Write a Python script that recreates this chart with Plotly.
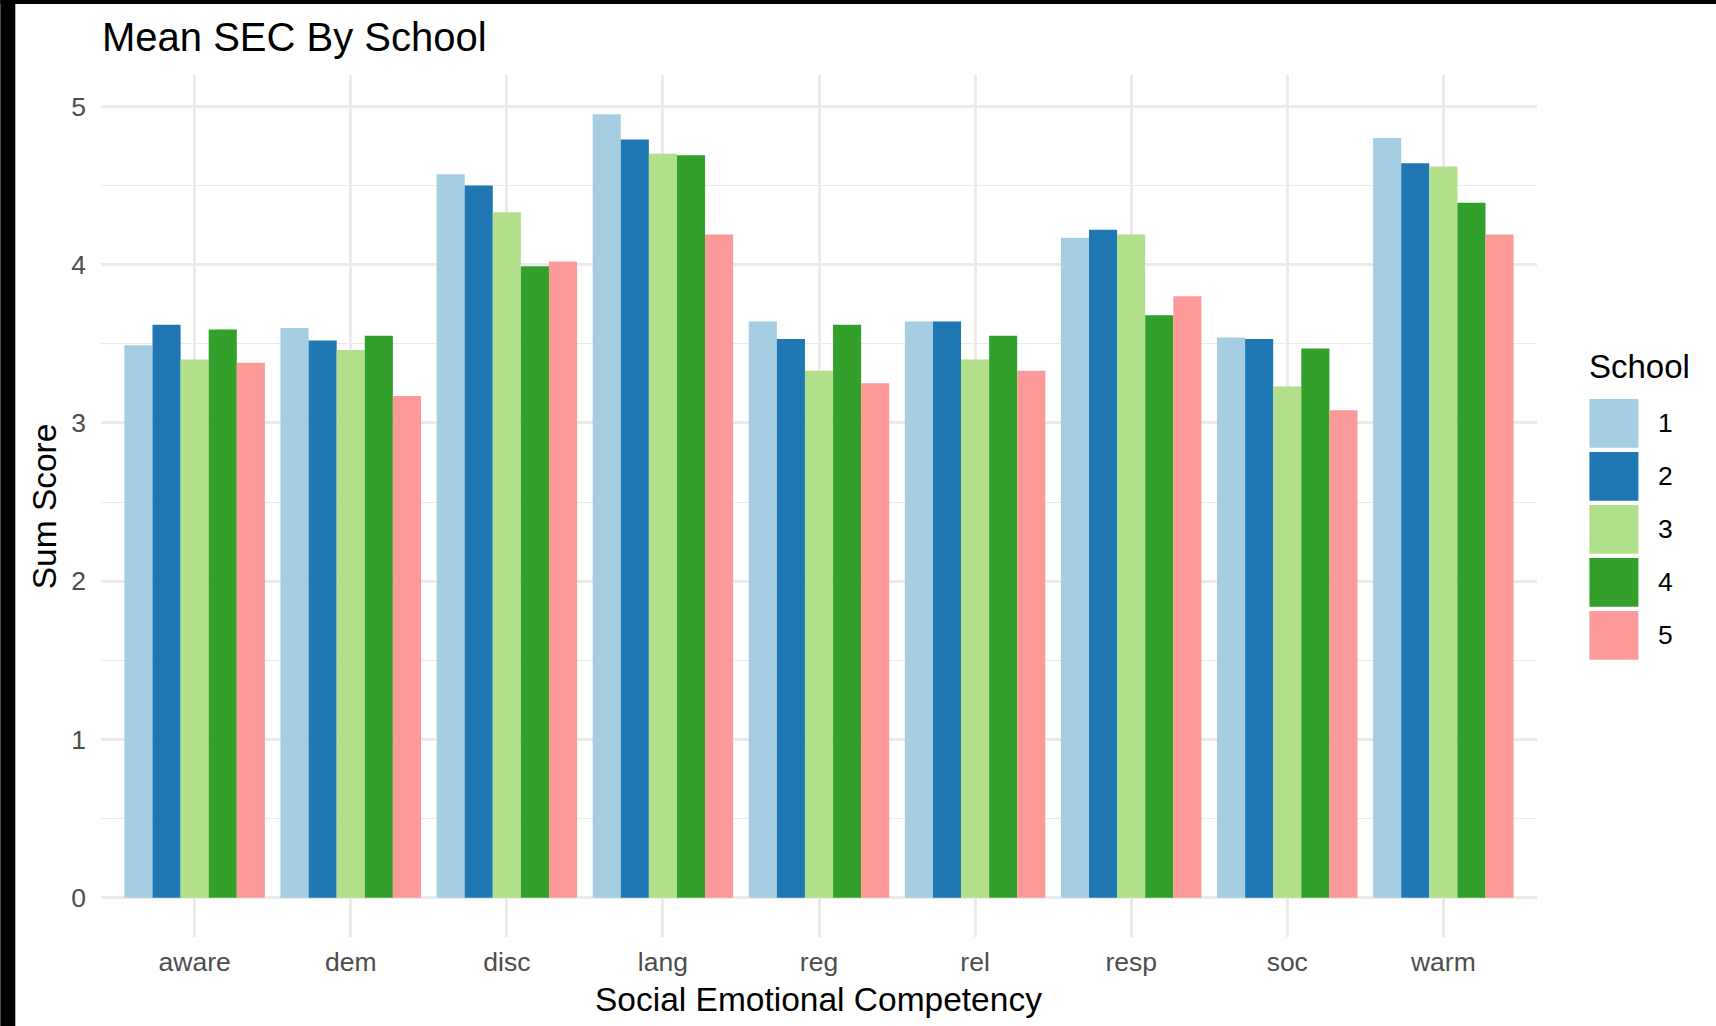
import plotly.graph_objects as go

categories = ["aware", "dem", "disc", "lang", "reg", "rel", "resp", "soc", "warm"]
schools = ["1", "2", "3", "4", "5"]
school1 = [3.49, 3.60, 4.57, 4.95, 3.64, 3.64, 4.17, 3.54, 4.80]
school2 = [3.62, 3.52, 4.50, 4.79, 3.53, 3.64, 4.22, 3.53, 4.64]
school3 = [3.40, 3.46, 4.33, 4.70, 3.33, 3.40, 4.19, 3.23, 4.62]
school4 = [3.59, 3.55, 3.99, 4.69, 3.62, 3.55, 3.68, 3.47, 4.39]
school5 = [3.38, 3.17, 4.02, 4.19, 3.25, 3.33, 3.80, 3.08, 4.19]
series = [school1, school2, school3, school4, school5]
colors = ["#A6CEE3", "#1F78B4", "#B2DF8A", "#33A02C", "#FB9A99"]

W_FIG, H_FIG = 1716, 1026
L, R, T, B = 100.7, 1536.6, 75.0, 937.0
PW, PH = R - L, B - T

def px(x):
    return (x - L) / PW

def py(y):
    return (B - y) / PH

fig = go.Figure()
for name, vals, col in zip(schools, series, colors):
    fig.add_trace(go.Bar(x=categories, y=vals, name=name, marker=dict(color=col, line=dict(width=0)),
                         showlegend=False))

font_fam = "Liberation Sans, Arial, sans-serif"
ymax = max(max(s) for s in series)
pad = 0.05 * ymax

fig.update_layout(
    width=W_FIG, height=H_FIG,
    margin=dict(l=L, r=W_FIG - R, t=T, b=H_FIG - B, pad=0, autoexpand=False),
    paper_bgcolor="white", plot_bgcolor="white",
    barmode="group", bargap=0.1, bargroupgap=0,
    font=dict(family=font_fam, color="#000000"),
    xaxis=dict(type="category", range=[-0.6, len(categories) - 0.4], showgrid=True,
               gridcolor="#EBEBEB", gridwidth=2.5, zeroline=False, showline=False, ticks="",
               tickfont=dict(size=26.5, color="#4D4D4D", family=font_fam), automargin=False,
               ticklabelstandoff=6),
    yaxis=dict(range=[-pad, ymax + pad], tickvals=[0, 1, 2, 3, 4, 5], showgrid=True,
               gridcolor="#EBEBEB", gridwidth=2.5, zeroline=False, showline=False, ticks="",
               tickfont=dict(size=26.5, color="#4D4D4D", family=font_fam), automargin=False,
               ticklabelstandoff=14,
               minor=dict(tickvals=[0.5, 1.5, 2.5, 3.5, 4.5], showgrid=True, gridcolor="#EBEBEB",
                          gridwidth=1.3)),
)

shapes = []
# black border bands
shapes.append(dict(type="rect", xref="paper", yref="paper", x0=px(0), x1=px(15), y0=py(H_FIG), y1=py(0),
                   fillcolor="black", line=dict(width=0), layer="above"))
shapes.append(dict(type="rect", xref="paper", yref="paper", x0=px(0), x1=px(W_FIG), y0=py(4), y1=py(0),
                   fillcolor="black", line=dict(width=0), layer="above"))

annotations = []
annotations.append(dict(text="Mean SEC By School", xref="paper", yref="paper", x=px(100), y=py(37),
                        xanchor="left", yanchor="middle", showarrow=False,
                        font=dict(size=40, color="black", family=font_fam)))
annotations.append(dict(text="Social Emotional Competency", xref="paper", yref="paper", x=px(818),
                        y=py(1000), xanchor="center", yanchor="middle", showarrow=False,
                        font=dict(size=33.5, color="black", family=font_fam)))
annotations.append(dict(text="Sum Score", xref="paper", yref="paper", x=px(44), y=py(506),
                        xanchor="center", yanchor="middle", showarrow=False, textangle=-90,
                        font=dict(size=33.5, color="black", family=font_fam)))

# legend
annotations.append(dict(text="School", xref="paper", yref="paper", x=px(1587), y=py(366),
                        xanchor="left", yanchor="middle", showarrow=False,
                        font=dict(size=33, color="black", family=font_fam)))
key_top0, key_step, key_h = 399.0, 53.0, 48.7
for i, (name, col) in enumerate(zip(schools, colors)):
    top = key_top0 + i * key_step
    shapes.append(dict(type="rect", xref="paper", yref="paper", x0=px(1589), x1=px(1638),
                       y0=py(top + key_h), y1=py(top), fillcolor=col, line=dict(width=0)))
    annotations.append(dict(text=name, xref="paper", yref="paper", x=px(1656), y=py(top + key_h / 2),
                            xanchor="left", yanchor="middle", showarrow=False,
                            font=dict(size=26.5, color="black", family=font_fam)))

fig.update_layout(shapes=shapes, annotations=annotations)
fig.write_html("out.html", config={"displayModeBar": False},
               post_script="document.body.style.margin='0px';document.body.style.overflow='hidden';")
